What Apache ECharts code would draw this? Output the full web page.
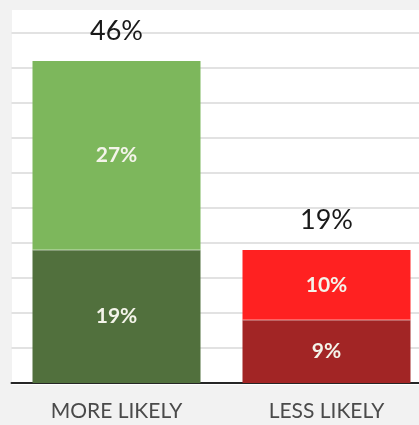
<!DOCTYPE html>
<html>
<head>
<meta charset="utf-8">
<script src="https://cdn.jsdelivr.net/npm/echarts@6/dist/echarts.min.js"></script>
<style>
  html, body { margin: 0; padding: 0; background: #f2f2f2; }
  #chart { width: 419px; height: 425px; }
</style>
</head>
<body>
<div id="chart"></div>
<script>
// Survey result: share of respondents, split into two intensity levels
const categories = ['MORE LIKELY', 'LESS LIKELY'];
const strongValues = [19, 9];   // lower segment
const somewhatValues = [27, 10]; // upper segment
const yTicks = [0, 5, 10, 15, 20, 25, 30, 35, 40, 45, 50];

const totals = categories.map((_, i) => strongValues[i] + somewhatValues[i]);

const lowerColors = ['#51703d', '#a22525'];
const upperColors = ['#7db75c', '#ff2121'];

const gridLeft = 11.5;
const gridWidth = 420;
const gapRatio = 0.2;

const chart = echarts.init(document.getElementById('chart'));

const innerLabel = {
  show: true,
  position: 'inside',
  color: '#f4f4ea',
  fontFamily: 'Lato',
  fontWeight: 'bold',
  fontSize: 21,
  formatter: p => p.value + '%'
};

const backdrop = {
  type: 'rect',
  z: -10,
  shape: { x: 12, y: 10, width: 420, height: 375 },
  style: { fill: '#ffffff' }
};

chart.setOption({
  animation: false,
  backgroundColor: '#f2f2f2',
  graphic: [backdrop],
  grid: { left: gridLeft, top: 33, width: gridWidth, bottom: 42, outerBoundsMode: 'none', containLabel: false },
  xAxis: {
    type: 'category',
    data: categories,
    axisLine: { lineStyle: { color: '#262626', width: 2 } },
    axisTick: { show: false },
    axisLabel: {
      color: '#4a4a4a',
      fontFamily: 'Lato',
      fontSize: 21,
      margin: 18
    }
  },
  yAxis: {
    type: 'value',
    min: yTicks[0],
    max: yTicks[yTicks.length - 1],
    interval: 5,
    axisLabel: { show: false },
    axisLine: { show: false },
    axisTick: { show: false },
    splitLine: { lineStyle: { color: '#d9d9d9', width: 1.5 } }
  },
  series: [
    {
      type: 'bar',
      stack: 'total',
      barCategoryGap: '20%',
      data: strongValues.map((v, i) => ({ value: v, itemStyle: { color: lowerColors[i] } })),
      label: innerLabel
    },
    {
      type: 'bar',
      stack: 'total',
      barCategoryGap: '20%',
      data: somewhatValues.map((v, i) => ({ value: v, itemStyle: { color: upperColors[i] } })),
      label: innerLabel
    },
    {
      // zero-height cap that carries the total label above each bar
      type: 'bar',
      stack: 'total',
      barCategoryGap: '20%',
      data: totals.map(() => 0),
      label: {
        show: true,
        position: 'top',
        distance: 16,
        color: '#1a1a1a',
        fontFamily: 'Lato',
        fontSize: 27,
        formatter: p => totals[p.dataIndex] + '%'
      }
    }
  ]
});

// thin light separators between the stacked segments
const halfBar = gridWidth / categories.length * (1 - gapRatio) / 2;
chart.setOption({
  graphic: [backdrop].concat(categories.map((c, i) => {
    const p0 = chart.convertToPixel({ gridIndex: 0 }, [i, strongValues[i]]);
    return {
      type: 'line',
      z: 100,
      shape: { x1: p0[0] - halfBar, y1: p0[1], x2: p0[0] + halfBar, y2: p0[1] },
      style: { stroke: 'rgba(255,255,255,0.6)', lineWidth: 1 }
    };
  }))
});
</script>
</body>
</html>
